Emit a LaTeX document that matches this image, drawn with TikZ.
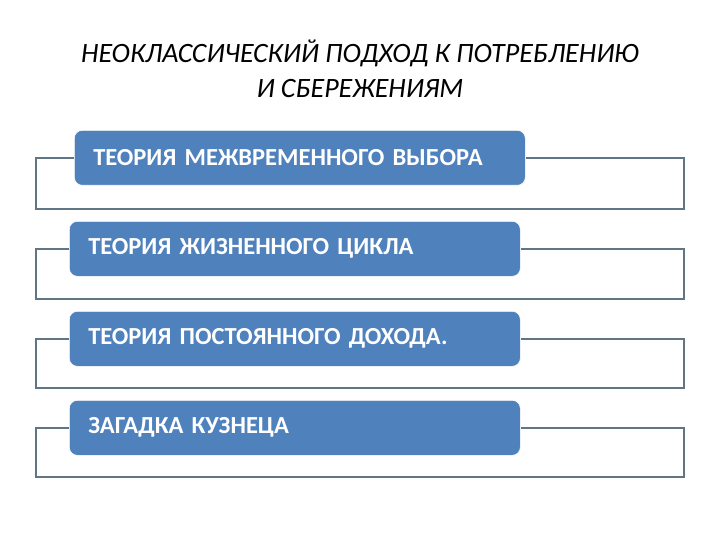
\documentclass[tikz,border=0pt]{standalone}
\usepackage{fontspec}
\setmainfont{Carlito}
\definecolor{boxblue}{RGB}{79,129,189}
\definecolor{slateline}{RGB}{96,118,133}

\begin{document}
\begin{tikzpicture}[x=1pt, y=-1pt,
  theory/.style = {shape=rectangle, rounded corners=8pt,
    fill=boxblue, draw=white, line width=0.6pt,
    text=white, font=\bfseries\fontsize{24.5}{28}\selectfont,
    align=left, text width=413pt, inner xsep=19pt, inner ysep=0pt,
    minimum height=55pt, anchor=north west},
  bracket/.style = {draw=slateline, line width=2pt}]
  \useasboundingbox (0,0) rectangle (720,540);
  % title
  \node (title) [align=center, font=\itshape\fontsize{28}{35}\selectfont]
    at (360,69) {НЕОКЛАССИЧЕСКИЙ ПОДХОД К ПОТРЕБЛЕНИЮ\\И СБЕРЕЖЕНИЯМ};

  % brackets behind the boxes
  \coordinate (bl1) at (36,209);
  \coordinate (br1) at (684,209);
  \coordinate (bl2) at (36,299);
  \coordinate (br2) at (684,299);
  \coordinate (bl3) at (36,388);
  \coordinate (br3) at (684,388);
  \coordinate (bl4) at (36,477);
  \coordinate (br4) at (684,477);

  % theories
  \node (t1) [theory] at (74,130) {ТЕОРИЯ МЕЖВРЕМЕННОГО ВЫБОРА};
  \node (t2) [theory] at (69,221) {ТЕОРИЯ ЖИЗНЕННОГО ЦИКЛА};
  \node (t3) [theory] at (69,311) {ТЕОРИЯ ПОСТОЯННОГО ДОХОДА.};
  \node (t4) [theory] at (69,400) {ЗАГАДКА КУЗНЕЦА};

  \draw[bracket] (t1.west) -| (bl1) -- (br1) |- (t1.east);
  \draw[bracket] (t2.west) -| (bl2) -- (br2) |- (t2.east);
  \draw[bracket] (t3.west) -| (bl3) -- (br3) |- (t3.east);
  \draw[bracket] (t4.west) -| (bl4) -- (br4) |- (t4.east);
\end{tikzpicture}
\end{document}
